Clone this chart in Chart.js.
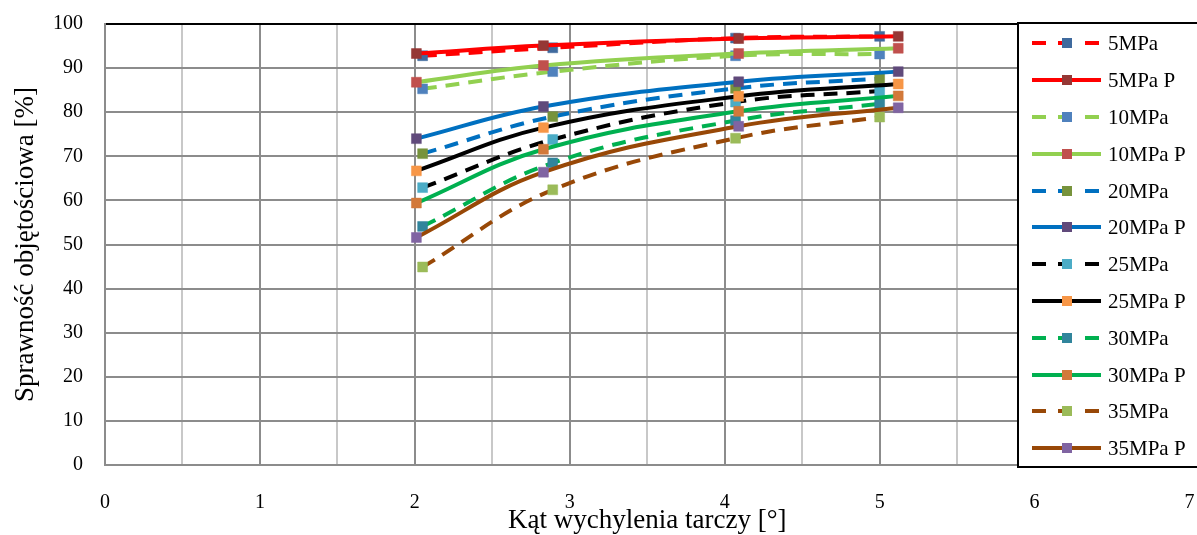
<!DOCTYPE html>
<html lang="pl">
<head>
  <meta charset="UTF-8">
  <title>Sprawność objętościowa</title>
  <script src="https://cdn.jsdelivr.net/npm/chart.js"></script>
  <style>
    html, body { margin: 0; padding: 0; background: #fff; }
  </style>
</head>
<body>
  <canvas id="chart" width="1197" height="535"></canvas>

  <script>
    // positions of the measured points and of the "P" points along x
    const xMeasured = [2.05, 2.89, 4.07, 5.0];
    const xModel = [2.01, 2.83, 4.09, 5.12];

    const labels = ['5MPa', '5MPa P', '10MPa', '10MPa P', '20MPa', '20MPa P',
                    '25MPa', '25MPa P', '30MPa', '30MPa P', '35MPa', '35MPa P'];

    const eff5 = [92.8, 94.6, 96.8, 97.2];
    const eff5P = [93.3, 95.1, 96.7, 97.2];
    const eff10 = [85.3, 89.2, 92.8, 93.2];
    const eff10P = [86.8, 90.6, 93.3, 94.5];
    const eff20 = [70.6, 79.0, 85.4, 87.6];
    const eff20P = [74.0, 81.3, 86.9, 89.2];
    const eff25 = [62.9, 73.8, 82.3, 84.8];
    const eff25P = [66.7, 76.5, 83.6, 86.4];
    const eff30 = [54.1, 68.5, 78.1, 81.9];
    const eff30P = [59.4, 71.6, 80.2, 83.7];
    const eff35 = [44.9, 62.4, 74.1, 78.9];
    const eff35P = [51.6, 66.4, 76.8, 81.0];

    const values = [eff5, eff5P, eff10, eff10P, eff20, eff20P, eff25, eff25P, eff30, eff30P, eff35, eff35P];

    const lineColors = ['#FF0000', '#FF0000', '#92D050', '#92D050', '#0070C0', '#0070C0',
                        '#000000', '#000000', '#00B050', '#00B050', '#984807', '#984807'];
    const markerColors = ['#3F6A9E', '#953735', '#4F81BD', '#C0504D', '#77933C', '#604A7B',
                          '#4BACC6', '#F79646', '#31859C', '#D2793A', '#9BBB59', '#8064A2'];

    const serif = '"Liberation Serif", "Times New Roman", serif';

    const datasets = labels.map((label, i) => {
      const isModel = label.endsWith(' P');
      const xs = isModel ? xModel : xMeasured;
      return {
        label: label,
        data: xs.map((x, k) => ({ x: x, y: values[i][k] })),
        showLine: true,
        fill: false,
        borderColor: lineColors[i],
        borderWidth: 4,
        borderDash: isModel ? [] : [14, 9],
        tension: 0.4,
        pointStyle: 'rect',
        pointRadius: 7,
        pointHoverRadius: 7,
        pointBackgroundColor: markerColors[i],
        pointBorderColor: markerColors[i],
        pointBorderWidth: 0.5,
        order: -i,
      };
    });

    // legend drawn as a framed box on top of the right part of the plot
    const boxLegend = {
      id: 'boxLegend',
      afterDraw(chart) {
        const ctx = chart.ctx;
        ctx.save();
        ctx.fillStyle = '#fff';
        ctx.fillRect(1018, 23, 190, 444);
        ctx.strokeStyle = '#000';
        ctx.lineWidth = 2;
        ctx.strokeRect(1018, 23, 190, 444);

        ctx.font = '21px ' + serif;
        ctx.textBaseline = 'middle';
        ctx.textAlign = 'left';
        chart.data.datasets.forEach((ds, i) => {
          const y = Math.round(43.3 + i * 36.8);
          ctx.strokeStyle = ds.borderColor;
          ctx.lineWidth = 4;
          ctx.beginPath();
          if (ds.borderDash.length) {
            ctx.moveTo(1032, y); ctx.lineTo(1046, y);
            ctx.moveTo(1058, y); ctx.lineTo(1072, y);
            ctx.moveTo(1085, y); ctx.lineTo(1099, y);
          } else {
            ctx.moveTo(1032, y); ctx.lineTo(1101, y);
          }
          ctx.stroke();
          ctx.fillStyle = ds.pointBackgroundColor;
          ctx.fillRect(1062, y - 5, 10, 10);
          ctx.fillStyle = '#000';
          ctx.fillText(ds.label, 1108, y + 1);
        });
        ctx.restore();
      }
    };

    new Chart(document.getElementById('chart'), {
      type: 'scatter',
      data: { datasets: datasets },
      plugins: [boxLegend],
      options: {
        responsive: false,
        animation: false,
        layout: { padding: { top: 24, right: 7, left: 0, bottom: 0 } },
        plugins: {
          legend: { display: false },
          tooltip: { enabled: false },
        },
        scales: {
          x: {
            type: 'linear',
            min: 0,
            max: 7,
            afterFit: (scale) => { scale.height = 70; },
            ticks: {
              stepSize: 0.5,
              padding: 0,
              color: '#000',
              font: { family: serif, size: 20 },
              maxRotation: 0,
              callback: (v) => (Number.isInteger(v) ? v : ''),
            },
            grid: {
              drawTicks: true,
              tickLength: 26,
              tickColor: 'rgba(0,0,0,0)',
              lineWidth: 2,
              color: (c) => (Number.isInteger(c.tick.value) ? '#8C8C8C' : '#C8C8C8'),
            },
            border: { color: '#8C8C8C', width: 2 },
            title: {
              display: true,
              text: 'Kąt wychylenia tarczy [°]',
              color: '#000',
              font: { family: serif, size: 27, lineHeight: 1 },
              padding: { top: 0, bottom: 1 },
            },
          },
          y: {
            min: 0,
            max: 100,
            afterFit: (scale) => { scale.width = 105; },
            ticks: {
              stepSize: 10,
              padding: 0,
              color: '#000',
              font: { family: serif, size: 20 },
            },
            grid: {
              drawTicks: true,
              tickLength: 22,
              tickColor: 'rgba(0,0,0,0)',
              lineWidth: 2,
              color: (c) => (c.tick.value === 100 ? '#000' : '#8C8C8C'),
            },
            border: { color: '#8C8C8C', width: 2 },
            title: {
              display: true,
              text: 'Sprawność objętościowa [%]',
              color: '#000',
              font: { family: serif, size: 27, lineHeight: 1 },
              padding: { top: 12, bottom: 0 },
            },
          },
        },
      },
    });
  </script>
</body>
</html>
